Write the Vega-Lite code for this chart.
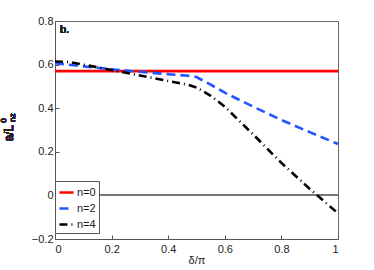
{
  "$schema": "https://vega.github.io/schema/vega-lite/v6.json",
  "width": 283,
  "height": 218,
  "autosize": "none",
  "padding": {"left": 55, "top": 21, "right": 36, "bottom": 31},
  "background": "white",
  "config": {
    "font": "Liberation Sans",
    "view": {"stroke": "#666", "strokeWidth": 1},
    "axis": {
      "grid": false,
      "domainColor": "#555",
      "tickColor": "#555",
      "tickSize": -4,
      "labelColor": "#222",
      "labelFontSize": 11,
      "labelFont": "Liberation Sans",
      "titleFont": "Liberation Sans",
      "titleFontSize": 11,
      "titleFontWeight": "normal",
      "titleColor": "#222"
    }
  },
  "data": {
    "values": [
      {"x": 0, "a": 0.57, "n": "n=0"},
      {"x": 1, "a": 0.57, "n": "n=0"},
      {"x": 0, "a": 0.606, "n": "n=2"},
      {"x": 0.1, "a": 0.592, "n": "n=2"},
      {"x": 0.2, "a": 0.579, "n": "n=2"},
      {"x": 0.3, "a": 0.567, "n": "n=2"},
      {"x": 0.4, "a": 0.556, "n": "n=2"},
      {"x": 0.47, "a": 0.549, "n": "n=2"},
      {"x": 0.5, "a": 0.543, "n": "n=2"},
      {"x": 0.55, "a": 0.508, "n": "n=2"},
      {"x": 0.6, "a": 0.471, "n": "n=2"},
      {"x": 0.7, "a": 0.407, "n": "n=2"},
      {"x": 0.8, "a": 0.346, "n": "n=2"},
      {"x": 0.9, "a": 0.29, "n": "n=2"},
      {"x": 1, "a": 0.236, "n": "n=2"},
      {"x": 0, "a": 0.614, "n": "n=4"},
      {"x": 0.05, "a": 0.612, "n": "n=4"},
      {"x": 0.1, "a": 0.6, "n": "n=4"},
      {"x": 0.2, "a": 0.575, "n": "n=4"},
      {"x": 0.3, "a": 0.55, "n": "n=4"},
      {"x": 0.4, "a": 0.525, "n": "n=4"},
      {"x": 0.47, "a": 0.507, "n": "n=4"},
      {"x": 0.5, "a": 0.495, "n": "n=4"},
      {"x": 0.55, "a": 0.457, "n": "n=4"},
      {"x": 0.6, "a": 0.407, "n": "n=4"},
      {"x": 0.7, "a": 0.28, "n": "n=4"},
      {"x": 0.8, "a": 0.149, "n": "n=4"},
      {"x": 0.9, "a": 0.03, "n": "n=4"},
      {"x": 1, "a": -0.082, "n": "n=4"}
    ]
  },
  "layer": [
    {
      "mark": {"type": "rule", "color": "#777", "strokeWidth": 1.2},
      "encoding": {"y": {"datum": 0, "type": "quantitative", "scale": {"domain": [-0.2, 0.8]}}}
    },
    {
      "mark": {"type": "line", "strokeWidth": 2.6, "clip": true},
      "encoding": {
        "x": {
          "field": "x", "type": "quantitative",
          "scale": {"domain": [0, 1], "nice": false},
          "axis": {"values": [0, 0.2, 0.4, 0.6, 0.8, 1], "format": "~g", "title": "δ/π", "labelPadding": 8, "titlePadding": 0}
        },
        "y": {
          "field": "a", "type": "quantitative",
          "scale": {"domain": [-0.2, 0.8], "nice": false, "zero": false},
          "axis": {"values": [-0.2, 0, 0.2, 0.4, 0.6, 0.8], "format": "~g", "title": null, "labelPadding": 6}
        },
        "color": {
          "field": "n", "type": "nominal",
          "scale": {"domain": ["n=0", "n=2", "n=4"], "range": ["#ff0000", "#2255ff", "#000000"]},
          "legend": {
            "title": null, "orient": "none", "legendX": 0, "legendY": 160,
            "symbolType": "stroke", "symbolSize": 200, "symbolStrokeWidth": 2.6,
            "strokeColor": "#555", "fillColor": "white", "padding": 3,
            "labelFontSize": 11, "labelColor": "#222", "rowPadding": 2, "labelOffset": 2
          }
        },
        "strokeDash": {
          "field": "n", "type": "nominal",
          "scale": {"domain": ["n=0", "n=2", "n=4"], "range": [[1, 0], [9, 5], [8, 4, 1, 4]]},
          "legend": null
        }
      }
    },
    {
      "mark": {"type": "text", "text": "b.", "align": "left", "baseline": "middle", "fontSize": 11, "color": "#222"},
      "encoding": {"x": {"datum": 0.018, "type": "quantitative"}, "y": {"datum": 0.759, "type": "quantitative"}}
    },
    {
      "mark": {"type": "text", "text": "a/L", "angle": 270, "align": "center", "baseline": "middle", "fontSize": 12, "color": "#222"},
      "encoding": {"x": {"datum": -0.1625, "type": "quantitative"}, "y": {"datum": 0.285, "type": "quantitative"}}
    },
    {
      "mark": {"type": "text", "text": "0", "angle": 270, "align": "center", "baseline": "middle", "fontSize": 8, "color": "#222"},
      "encoding": {"x": {"datum": -0.1785, "type": "quantitative"}, "y": {"datum": 0.344, "type": "quantitative"}}
    },
    {
      "mark": {"type": "text", "text": "nz", "angle": 270, "align": "center", "baseline": "middle", "fontSize": 8, "color": "#222"},
      "encoding": {"x": {"datum": -0.149, "type": "quantitative"}, "y": {"datum": 0.357, "type": "quantitative"}}
    }
  ]
}
